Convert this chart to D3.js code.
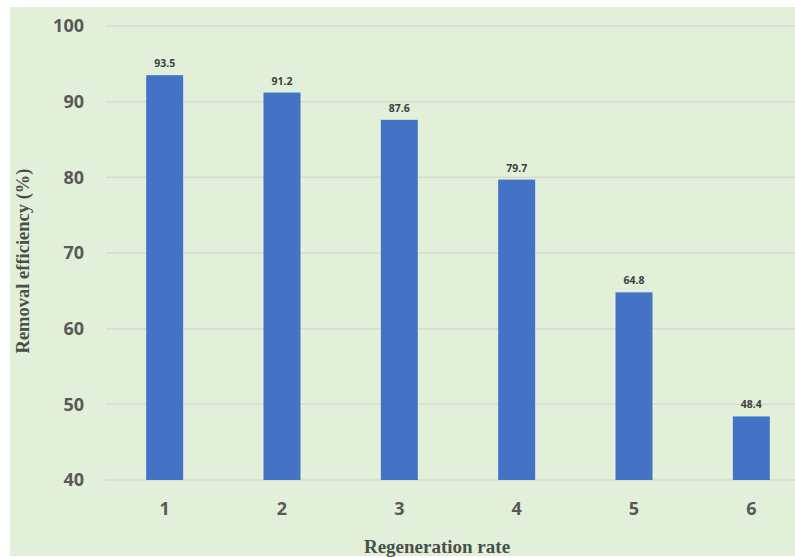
<!DOCTYPE html>
<html>
<head>
<meta charset="utf-8">
<script src="https://cdn.jsdelivr.net/npm/d3@7"></script>
<style>
  html, body { margin: 0; padding: 0; background: #ffffff; }
  svg { display: block; }
</style>
</head>
<body>
<svg id="chart" width="795" height="558"></svg>
<script>
// Removal efficiency over successive regeneration cycles
const cycles = ["1", "2", "3", "4", "5", "6"];
const efficiency = [93.5, 91.2, 87.6, 79.7, 64.8, 48.4];
const yTicks = [40, 50, 60, 70, 80, 90, 100];

const svg = d3.select("#chart");
const W = 795, H = 558;

// panel background
svg.append("rect")
  .attr("x", 10).attr("y", 7)
  .attr("width", W - 10).attr("height", H - 9)
  .attr("fill", "#e2efd9");

const plot = { left: 106, right: 810, top: 26, bottom: 480 };

const x = d3.scaleBand()
  .domain(cycles)
  .range([plot.left, plot.right])
  .paddingInner(0.685)
  .paddingOuter(0.3425);

const y = d3.scaleLinear()
  .domain([40, 100])
  .range([plot.bottom, plot.top]);

// horizontal gridlines
svg.append("g")
  .selectAll("line")
  .data(yTicks)
  .join("line")
  .attr("x1", plot.left).attr("x2", W)
  .attr("y1", d => y(d)).attr("y2", d => y(d))
  .attr("stroke", "#d3dfcc")
  .attr("stroke-width", 1.5);

// y axis tick labels
const yAxis = d3.axisLeft(y).tickValues(yTicks).tickSize(0).tickPadding(0);
const gy = svg.append("g")
  .attr("transform", `translate(84,0)`)
  .call(yAxis);
gy.select(".domain").remove();
gy.selectAll("text")
  .attr("font-family", "'Open Sans', 'Liberation Sans', sans-serif")
  .attr("font-weight", "bold")
  .attr("font-size", 18)
  .attr("fill", "#595959");

// x axis tick labels
const xAxis = d3.axisBottom(x).tickSize(0).tickPadding(0);
const gx = svg.append("g")
  .attr("transform", `translate(0,${plot.bottom + 22})`)
  .call(xAxis);
gx.select(".domain").remove();
gx.selectAll("text")
  .attr("font-family", "'Open Sans', 'Liberation Sans', sans-serif")
  .attr("font-weight", "bold")
  .attr("font-size", 18)
  .attr("fill", "#595959");

// bars
svg.append("g")
  .selectAll("rect")
  .data(efficiency)
  .join("rect")
  .attr("x", (d, i) => x(cycles[i]))
  .attr("y", d => y(d))
  .attr("width", x.bandwidth())
  .attr("height", d => y(40) - y(d))
  .attr("fill", "#4472c4");

// value labels above bars
svg.append("g")
  .selectAll("text")
  .data(efficiency)
  .join("text")
  .attr("x", (d, i) => x(cycles[i]) + x.bandwidth() / 2)
  .attr("y", d => y(d) - 8)
  .attr("text-anchor", "middle")
  .attr("font-family", "'Open Sans', 'Liberation Sans', sans-serif")
  .attr("font-weight", "bold")
  .attr("font-size", 10.5)
  .attr("fill", "#404040")
  .text(d => d.toFixed(1));

// axis titles
svg.append("text")
  .attr("transform", `translate(29,${(plot.top + plot.bottom) / 2 + 8}) rotate(-90)`)
  .attr("text-anchor", "middle")
  .attr("font-family", "'Liberation Serif', 'Times New Roman', serif")
  .attr("font-weight", "bold")
  .attr("font-size", 18.5)
  .attr("fill", "#4a4f4a")
  .text("Removal efficiency (%)");

svg.append("text")
  .attr("x", 437)
  .attr("y", 553)
  .attr("text-anchor", "middle")
  .attr("font-family", "'Liberation Serif', 'Times New Roman', serif")
  .attr("font-weight", "bold")
  .attr("font-size", 19)
  .attr("fill", "#4a4f4a")
  .text("Regeneration rate");
</script>
</body>
</html>
